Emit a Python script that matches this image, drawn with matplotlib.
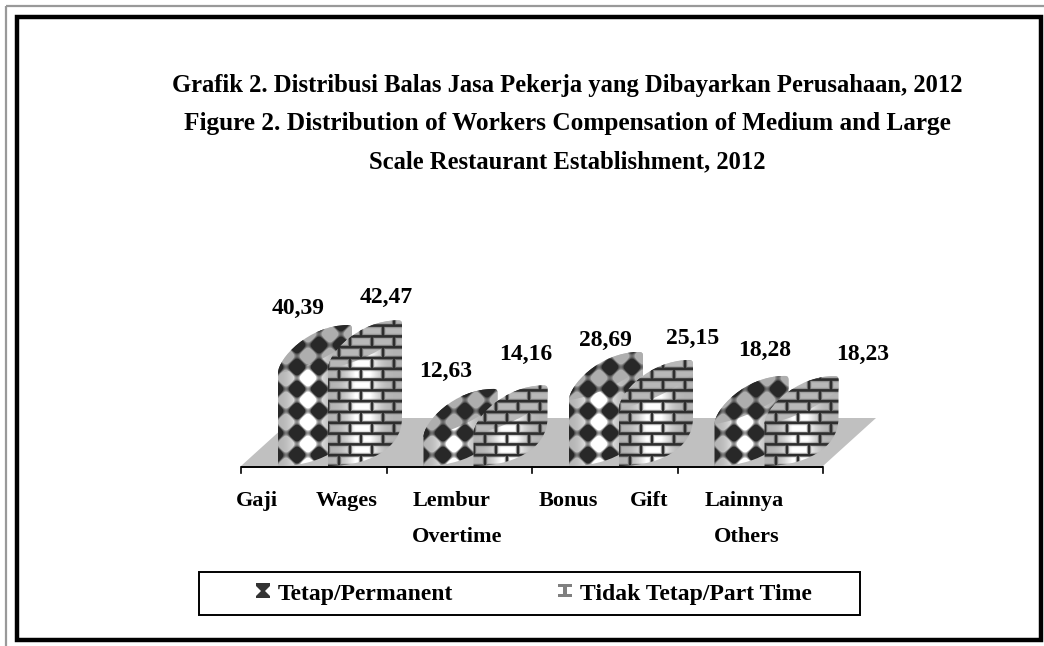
import numpy as np
import matplotlib
matplotlib.use("Agg")
import matplotlib.pyplot as plt
from matplotlib.patches import PathPatch, Polygon, Rectangle
from matplotlib.path import Path

categories = ["Gaji Wages", "Lembur Overtime", "Bonus Gift", "Lainnya Others"]
series_names = ["Tetap/Permanent", "Tidak Tetap/Part Time"]
tetap = [40.39, 12.63, 28.69, 18.28]
tidak_tetap = [42.47, 14.16, 25.15, 18.23]
title_lines = ["Grafik 2. Distribusi Balas Jasa Pekerja yang Dibayarkan Perusahaan, 2012",
               "Figure 2. Distribution of Workers Compensation of Medium and Large",
               "Scale Restaurant Establishment, 2012"]

# fake 3d geometry, all in pixels
W, H = 1044, 646
AXIS_X0 = 241
CAT_W = 145.5
BASE_Y = 466
PX_PER_UNIT = 2.3
BAR_W = 50
SKEW_X, SKEW_Y = 24, 48   # depth of the cylinder
FLOOR_DX, FLOOR_DY = 53, 48

SERIF = ["Liberation Serif", "DejaVu Serif"]

plt.rcParams["font.family"] = SERIF
plt.rcParams["font.weight"] = "bold"

fig = plt.figure(figsize=(W / 100, H / 100), dpi=100)
ax = fig.add_axes([0, 0, 1, 1])


def shade_body(t):
    # bright a bit right of the middle, falls off to both sides
    return np.clip(0.7 + 0.38 * np.exp(-((t - 0.6) / 0.3) ** 2), 0, 1)


def diamonds(x, y, light):
    p = 22.0
    s = np.sin(np.pi * (x + y) / p) * np.sin(np.pi * (x - y) / p)
    m = np.clip(0.5 + s * 2.6, 0, 1)
    return 0.16 + (light - 0.16) * m


def bricks(x, y, light):
    rh, bw = 10.8, 22.0
    row = np.floor(y / rh)
    fy = y / rh - row
    fx = ((x + (row % 2) * bw / 2) / bw) % 1
    dy = np.minimum(fy, 1 - fy) * rh
    dx = np.minimum(fx, 1 - fx) * bw
    d = np.minimum(dx, dy)
    m = np.clip((d - 0.8) / 1.2, 0, 1)
    rim = np.clip((d - 1.8) / 1.5, 0, 1)
    val = light * (0.85 + 0.15 * rim)
    return 0.18 + (val - 0.18) * m


def draw_bar(x0, value, pattern):
    top = BASE_Y - value * PX_PER_UNIT
    w = BAR_W + SKEW_X
    # whole silhouette, rounded at the back tip
    verts = [(x0, BASE_Y), (x0, top),
             (x0, top - 14), (x0 + 30, top - SKEW_Y), (x0 + w - 4, top - SKEW_Y),
             (x0 + w - 1, top - SKEW_Y), (x0 + w, top - SKEW_Y + 1), (x0 + w, top - SKEW_Y + 4),
             (x0 + w, BASE_Y - SKEW_Y),
             (x0 + w, BASE_Y - 16), (x0 + 38, BASE_Y), (x0, BASE_Y)]
    codes = [Path.MOVETO, Path.LINETO, Path.CURVE4, Path.CURVE4, Path.CURVE4,
             Path.CURVE4, Path.CURVE4, Path.CURVE4,
             Path.LINETO, Path.CURVE4, Path.CURVE4, Path.CURVE4]
    body = PathPatch(Path(verts, codes), transform=ax.transData, fc="none", ec="none")

    # the cap part, back edge as above, front edge below it
    cap_verts = [(x0, top), (x0, top - 14), (x0 + 30, top - SKEW_Y), (x0 + w - 4, top - SKEW_Y),
                 (x0 + w - 1, top - SKEW_Y), (x0 + w, top - SKEW_Y + 1), (x0 + w, top - SKEW_Y + 4),
                 (x0 + w, top - 35),
                 (x0 + 60, top - 20), (x0 + 25, top - 3), (x0, top)]
    cap_codes = [Path.MOVETO, Path.CURVE4, Path.CURVE4, Path.CURVE4,
                 Path.CURVE4, Path.CURVE4, Path.CURVE4,
                 Path.LINETO, Path.CURVE4, Path.CURVE4, Path.CURVE4]
    cap = PathPatch(Path(cap_verts, cap_codes), transform=ax.transData, fc="none", ec="none")

    y_lo, y_hi = int(top - SKEW_Y - 6), BASE_Y + 2
    xs = np.arange(x0 - 1, x0 + w + 2) + 0.5
    ys = np.arange(y_lo, y_hi) + 0.5
    xx, yy = np.meshgrid(xs, ys)
    ext = (xs[0] - 0.5, xs[-1] + 0.5, ys[-1] + 0.5, ys[0] - 0.5)

    t = (xx - x0) / BAR_W
    if pattern == "diamond":
        body_img = diamonds(xx - x0 + 3, yy - BASE_Y, shade_body(t))
        cap_img = diamonds(xx - x0 + 3, yy - BASE_Y, np.full_like(t, 0.68))
    else:
        body_img = bricks(xx - x0, yy - BASE_Y, shade_body(t - 0.1))
        cap_img = bricks(xx - x0, yy - BASE_Y, np.full_like(t, 0.72))

    im = ax.imshow(body_img, cmap="gray", vmin=0, vmax=1, extent=ext, aspect="auto",
                   interpolation="bilinear", zorder=3)
    im.set_clip_path(body)
    im2 = ax.imshow(cap_img, cmap="gray", vmin=0, vmax=1, extent=ext, aspect="auto",
                    interpolation="bilinear", zorder=3)
    im2.set_clip_path(cap)


# page frames
ax.add_patch(Rectangle((5.5, 6), W + 20, H + 20, fc="none", ec="#999999", lw=1.6))
ax.add_patch(Rectangle((17, 17), 1023.5, 623, fc="white", ec="black", lw=3.2))

# floor
n = len(categories)
axis_end = AXIS_X0 + n * CAT_W
ax.add_patch(Polygon([(AXIS_X0, BASE_Y), (axis_end, BASE_Y),
                      (axis_end + FLOOR_DX, BASE_Y - FLOOR_DY),
                      (AXIS_X0 + FLOOR_DX, BASE_Y - FLOOR_DY)], fc="#c0c0c0", ec="none", zorder=1))

# bars
for i in range(n):
    x0 = AXIS_X0 + i * CAT_W + 37
    draw_bar(x0, tetap[i], "diamond")
    draw_bar(x0 + BAR_W, tidak_tetap[i], "brick")

# axis line and ticks
ax.plot([AXIS_X0, axis_end], [467, 467], color="black", lw=1.4, zorder=4, solid_capstyle="butt")
for i in range(n + 1):
    ax.plot([AXIS_X0 + i * CAT_W] * 2, [467, 472.5], color="black", lw=1.2, zorder=4)

# value labels, moved by hand in the original
label_dx = [[-17, 21], [-15, 15], [-1, 37], [13, 61]]
label_y = [[314, 303], [377, 360], [346, 344], [356, 360]]
for i in range(n):
    x0 = AXIS_X0 + i * CAT_W + 37
    for j, vals in enumerate([tetap, tidak_tetap]):
        xc = x0 + j * BAR_W + 37 + label_dx[i][j]
        ax.text(xc, label_y[i][j], f"{vals[i]:.2f}".replace(".", ","), ha="center", va="baseline",
                fontsize=17, zorder=5)

# category text
cat_text = [("Gaji", 257, 506), ("Wages", 347, 506), ("Lembur", 452, 506), ("Bonus", 568, 506),
            ("Gift", 649, 506), ("Lainnya", 744, 506), ("Overtime", 457, 542), ("Others", 747, 542)]
for s, x, y in cat_text:
    ax.text(x, y, s, ha="center", va="baseline", fontsize=16, zorder=5)

# title
for s, y, fs in zip(title_lines, [92, 130, 168], [17.7, 18.2, 17.7]):
    ax.text(567, y, s, ha="center", va="baseline", fontsize=fs, zorder=5)

# legend
ax.add_patch(Rectangle((199, 572), 661, 42.5, fc="white", ec="black", lw=1.4, zorder=4))
ax.add_patch(Polygon([(256, 583), (270, 583), (270, 586), (265, 591), (270, 596), (270, 598), (256, 598),
                      (256, 596), (261, 591), (256, 586)], fc="#333333", ec="none", zorder=5))
ax.add_patch(Polygon([(558, 584), (572, 584), (572, 587), (567, 587), (567, 594), (572, 594), (572, 597),
                      (558, 597), (558, 594), (563, 594), (563, 587), (558, 587)],
                     fc="#808080", ec="none", zorder=5))
ax.text(278, 600, series_names[0], ha="left", va="baseline", fontsize=17, zorder=5)
ax.text(580, 600, series_names[1], ha="left", va="baseline", fontsize=17, zorder=5)

ax.set_xlim(0, W)
ax.set_ylim(H, 0)
ax.axis("off")
fig.savefig("out.png", dpi=100, facecolor="white")
